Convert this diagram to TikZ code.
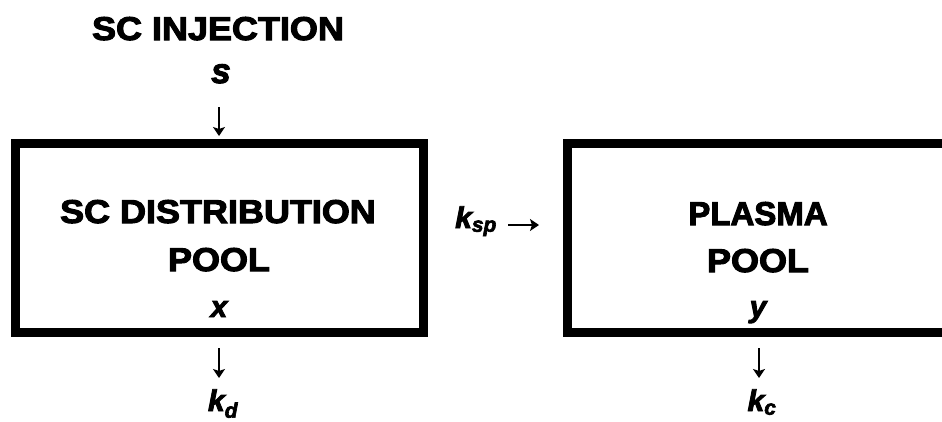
\documentclass[tikz,border=0pt]{standalone}
\usepackage{fontspec}
\setmainfont{Liberation Sans}[BoldFeatures={FakeBold=3},BoldItalicFeatures={FakeBold=3}]
\usetikzlibrary{arrows.meta}
\newcommand\widetxt[1]{\scalebox{1.09}[1]{#1}}
\begin{document}
\begin{tikzpicture}[x=1pt,y=-1pt,
  pool/.style={draw, line width=9pt, minimum width=408pt, minimum height=189pt, inner sep=0pt},
  txt/.style={inner sep=0pt, anchor=base, font=\fontsize{33}{38}\selectfont\bfseries},
  var/.style={inner sep=0pt, anchor=base, font=\fontsize{30}{36}\selectfont\bfseries\itshape},
  arr/.style={line width=2pt, -{Stealth[length=9pt,width=12pt,inset=2pt]}}]
\useasboundingbox (0,0) rectangle (942,421);
\clip (0,0) rectangle (942,421);
% boxes
\node[pool] (sc) at (219.5,238) {};
\node[pool] (pl) at (771.5,238) {};
% top input
\node[txt] (inj) at (218,40) {\widetxt{SC INJECTION}};
\node[var, font=\fontsize{35}{40}\selectfont\bfseries\itshape] (s) at (221,83) {s};
\coordinate (a0) at (219,107);
\draw[arr, shorten >=3pt] (a0) -- (a0 |- sc.north);
% left box texts
\node[txt] (sc1) at (218,223) {\widetxt{SC DISTRIBUTION}};
\node[txt] (sc2) at (219,271) {\widetxt{POOL}};
\node[var] (xv) at (219,317) {x};
% right box texts
\node[txt] (pl1) at (758,225) {PLASMA};
\node[txt] (pl2) at (758,272) {\widetxt{POOL}};
\node[var] (yv) at (758,317) {y};
% transfer
\node[var, anchor=base west] (ksp) at (455,228) {k\textsubscript{sp}};
\coordinate (r1) at (508,225);
\coordinate (r2) at (539,225);
\draw[arr, line width=1.6pt] (r1) -- (r2);
% outputs
\coordinate (d1) at (219,378);
\coordinate (d2) at (759,378);
\draw[arr, shorten <=11pt] (sc.south -| d1) -- (d1);
\draw[arr, shorten <=11pt] (pl.south -| d2) -- (d2);
\node[var] (kd) at (223,411) {k\textsubscript{d}};
\node[var] (kc) at (762,411) {k\textsubscript{c}};
\end{tikzpicture}
\end{document}
